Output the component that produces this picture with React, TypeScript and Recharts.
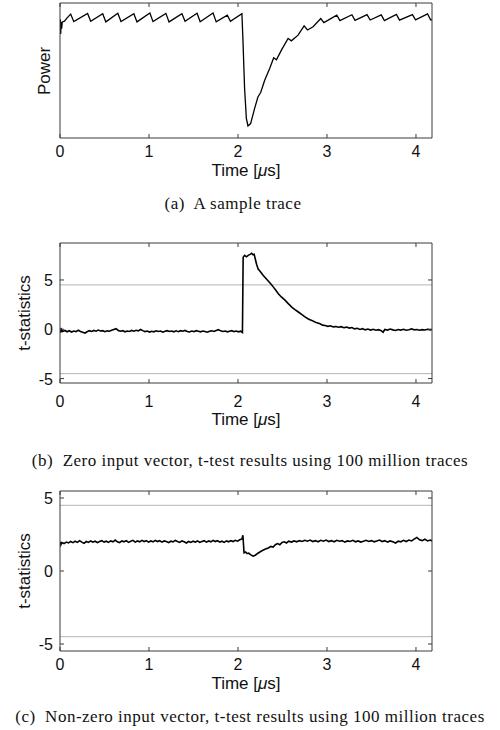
import { LineChart, Line, XAxis, YAxis, ReferenceLine } from "recharts";

// ---- data ----
const timeTicks = [0, 1, 2, 3, 4];
const tTicks = [-5, 0, 5];
const threshold = 4.5;

// (a) single power trace, arbitrary units 0..100
const sampleTrace: [number, number][] = [
  [0, 80], [0.004, 88], [0.008, 77], [0.012, 86], [0.018, 81], [0.026, 86],
  [0.05, 86.5], [0.08, 89], [0.12, 91.8], [0.155, 86.2],
  [0.31, 92.2], [0.345, 86.4], [0.48, 92.0], [0.515, 86.0],
  [0.65, 92.4], [0.685, 86.3], [0.83, 92.1], [0.865, 86.0],
  [1.01, 92.6], [1.045, 86.2], [1.19, 92.3], [1.225, 86.0],
  [1.37, 92.1], [1.405, 86.4], [1.54, 92.4], [1.575, 86.1],
  [1.72, 92.6], [1.755, 86.0], [1.88, 91.0], [1.915, 86.4],
  [2.044, 92.0], [2.055, 74], [2.074, 36.9], [2.094, 14.6], [2.112, 8.9],
  [2.142, 10.7], [2.187, 22], [2.224, 30.4], [2.255, 33.7], [2.3, 42.8],
  [2.356, 51.5], [2.401, 59.4], [2.432, 58.0], [2.488, 65.1], [2.563, 73.8],
  [2.6, 72.0], [2.675, 76.2], [2.743, 83.1], [2.781, 80.0], [2.844, 82.4],
  [2.93, 88.5], [2.965, 85.5], [3.11, 91], [3.145, 87], [3.28, 91.3],
  [3.315, 87.2], [3.45, 91.4], [3.485, 87.4], [3.61, 91.2], [3.645, 87.0],
  [3.78, 91.5], [3.815, 87.3], [3.96, 91.4], [3.995, 87.5], [4.13, 92.0],
  [4.165, 87.4], [4.18, 87.8],
];

// (b) zero input vector t-statistics
const zeroInput: [number, number][] = [
  [0, 0.05], [0.005, -0.35], [0.01, 0.1], [0.015, -0.3], [0.02, -0.05], [0.03, -0.22],
  [0.055, -0.12], [0.08, -0.25], [0.105, -0.15], [0.13, -0.28], [0.155, -0.18],
  [0.18, -0.24], [0.205, -0.1], [0.23, -0.22], [0.255, -0.3], [0.28, -0.38],
  [0.305, -0.26], [0.33, -0.14], [0.355, -0.22], [0.38, -0.12], [0.405, -0.2],
  [0.43, -0.08], [0.455, -0.18], [0.48, -0.14], [0.505, -0.24], [0.53, -0.16],
  [0.555, -0.2], [0.58, -0.1], [0.605, -0.02], [0.63, 0.06], [0.655, -0.12],
  [0.68, -0.2], [0.705, -0.14], [0.73, -0.26], [0.755, -0.18], [0.78, -0.22],
  [0.805, -0.12], [0.83, -0.2], [0.855, -0.1], [0.88, -0.16], [0.905, -0.02],
  [0.93, -0.14], [0.955, -0.24], [0.98, -0.18], [1.005, -0.28], [1.03, -0.2],
  [1.055, -0.26], [1.08, -0.16], [1.105, -0.22], [1.13, -0.18], [1.155, -0.3],
  [1.18, -0.2], [1.205, -0.14], [1.23, -0.22], [1.255, -0.18], [1.28, -0.26],
  [1.305, -0.16], [1.33, -0.24], [1.355, -0.14], [1.38, -0.2], [1.405, -0.12],
  [1.43, -0.22], [1.455, -0.28], [1.48, -0.18], [1.505, -0.24], [1.53, -0.14],
  [1.555, -0.2], [1.58, -0.26], [1.605, -0.18], [1.63, -0.22], [1.655, -0.3],
  [1.68, -0.2], [1.705, -0.16], [1.73, -0.22], [1.755, -0.12], [1.78, -0.04],
  [1.805, -0.16], [1.83, -0.22], [1.855, -0.18], [1.88, -0.26], [1.905, -0.2],
  [1.93, -0.14], [1.955, -0.24], [1.98, -0.18], [2.005, -0.26], [2.03, -0.2],
  [2.05, -0.32], [2.058, 7.3], [2.075, 7.5], [2.095, 7.35], [2.115, 7.5],
  [2.135, 7.6], [2.153, 7.7], [2.17, 7.55], [2.182, 7.6], [2.195, 7.1],
  [2.209, 6.6], [2.227, 6.1], [2.25, 5.85], [2.284, 5.45], [2.31, 5.2],
  [2.34, 4.9], [2.37, 4.6], [2.396, 4.3], [2.425, 3.95], [2.453, 3.6],
  [2.49, 3.25], [2.528, 2.95], [2.565, 2.6], [2.604, 2.25], [2.64, 2.0],
  [2.678, 1.75], [2.715, 1.5], [2.753, 1.25], [2.79, 1.05], [2.829, 0.9],
  [2.87, 0.72], [2.922, 0.55], [2.95, 0.42], [2.978, 0.38], [3.01, 0.3],
  [3.04, 0.36], [3.07, 0.24], [3.1, 0.28], [3.13, 0.2], [3.16, 0.26],
  [3.19, 0.16], [3.22, 0.22], [3.25, 0.12], [3.28, 0.18], [3.31, 0.04],
  [3.34, 0.1], [3.37, -0.02], [3.4, 0.06], [3.43, -0.06], [3.46, 0.02],
  [3.49, -0.08], [3.52, 0.0], [3.55, -0.1], [3.58, -0.04], [3.61, -0.14],
  [3.63, -0.3], [3.65, -0.02], [3.68, -0.08], [3.71, 0.02], [3.74, -0.06],
  [3.77, -0.12], [3.8, -0.02], [3.83, -0.08], [3.86, 0.0], [3.89, -0.1],
  [3.92, -0.04], [3.95, 0.04], [3.98, -0.06], [4.01, -0.02], [4.04, -0.1],
  [4.07, -0.04], [4.1, -0.08], [4.13, 0.0], [4.16, -0.06], [4.18, -0.03],
];

// (c) non-zero input vector t-statistics
const nonZeroInput: [number, number][] = [
  [0, 1.75], [0.005, 2.0], [0.01, 1.8], [0.02, 1.95], [0.045, 1.88], [0.07, 1.98],
  [0.095, 1.92], [0.12, 2.02], [0.145, 1.94], [0.17, 2.04], [0.195, 1.96],
  [0.22, 2.08], [0.245, 1.98], [0.27, 1.9], [0.295, 2.02], [0.32, 1.96],
  [0.345, 2.06], [0.37, 1.98], [0.395, 2.04], [0.42, 1.94], [0.445, 2.02],
  [0.47, 2.08], [0.495, 1.98], [0.52, 2.04], [0.545, 1.96], [0.57, 2.06],
  [0.595, 2.0], [0.62, 2.12], [0.645, 2.0], [0.67, 1.94], [0.695, 2.06],
  [0.72, 2.0], [0.745, 2.08], [0.77, 1.96], [0.795, 2.04], [0.82, 2.1],
  [0.845, 1.98], [0.87, 2.06], [0.895, 2.0], [0.92, 2.1], [0.945, 2.02],
  [0.97, 2.08], [0.995, 1.98], [1.02, 2.06], [1.045, 2.0], [1.07, 2.1],
  [1.095, 2.02], [1.12, 2.08], [1.145, 1.98], [1.17, 2.06], [1.195, 2.02],
  [1.22, 1.94], [1.245, 2.04], [1.27, 2.0], [1.295, 2.1], [1.32, 2.02],
  [1.345, 1.96], [1.37, 2.06], [1.395, 2.0], [1.42, 1.92], [1.445, 2.02],
  [1.47, 1.96], [1.495, 2.04], [1.52, 1.98], [1.545, 2.06], [1.57, 1.96],
  [1.595, 2.02], [1.62, 2.08], [1.645, 1.98], [1.67, 2.06], [1.695, 2.0],
  [1.72, 2.1], [1.745, 2.02], [1.77, 2.08], [1.795, 1.98], [1.82, 2.04],
  [1.845, 1.96], [1.87, 2.06], [1.895, 2.0], [1.92, 2.08], [1.945, 2.02],
  [1.97, 2.1], [1.995, 2.04], [2.02, 2.14], [2.045, 2.2], [2.055, 2.45],
  [2.068, 1.25], [2.085, 1.3], [2.1, 1.2], [2.12, 1.22], [2.145, 1.1],
  [2.17, 1.02], [2.195, 1.08], [2.22, 1.2], [2.25, 1.32], [2.28, 1.42],
  [2.31, 1.5], [2.34, 1.58], [2.37, 1.68], [2.395, 1.64], [2.42, 1.8],
  [2.445, 1.88], [2.47, 1.8], [2.495, 1.96], [2.52, 2.0], [2.545, 1.92],
  [2.57, 2.04], [2.6, 1.98], [2.63, 2.06], [2.66, 2.0], [2.69, 2.08],
  [2.72, 2.02], [2.75, 2.1], [2.78, 2.04], [2.81, 2.12], [2.84, 2.02],
  [2.87, 2.08], [2.9, 2.0], [2.93, 2.1], [2.96, 2.04], [2.99, 2.12],
  [3.02, 2.02], [3.05, 2.08], [3.08, 2.0], [3.11, 2.1], [3.14, 2.04],
  [3.17, 2.08], [3.2, 1.98], [3.23, 2.06], [3.26, 2.02], [3.29, 2.1],
  [3.32, 2.0], [3.35, 2.06], [3.38, 1.98], [3.41, 2.04], [3.44, 2.1],
  [3.47, 2.02], [3.5, 2.08], [3.53, 2.0], [3.56, 2.06], [3.59, 2.12],
  [3.62, 2.02], [3.65, 2.08], [3.68, 1.98], [3.71, 2.06], [3.74, 2.0],
  [3.77, 1.92], [3.8, 2.04], [3.83, 2.0], [3.86, 2.1], [3.89, 2.02],
  [3.92, 2.12], [3.95, 2.06], [3.98, 2.18], [4.01, 2.3], [4.04, 2.14],
  [4.07, 2.08], [4.1, 2.18], [4.13, 2.06], [4.16, 2.12], [4.18, 2.06],
];

const toRows = (pts: [number, number][]) => pts.map(([t, v]) => ({ t, v }));

const SANS = "'Liberation Sans', Arial, sans-serif";
const SERIF = "'Liberation Serif', 'Times New Roman', serif";
const FRAME = "#3a3a3a";
const TICK_LEN = 4;

// inward tick marks, labels outside
function InTick(props: any) {
  const { x, y, payload, side, showLabel, labelOffset } = props;
  let line;
  let label = null;
  if (side === "bottom") {
    line = <line x1={x} y1={y} x2={x} y2={y - TICK_LEN} stroke={FRAME} />;
    if (showLabel)
      label = (
        <text x={x} y={y + labelOffset} textAnchor="middle" fontSize={16} fontFamily={SANS} fill="#111">
          {payload.value}
        </text>
      );
  } else if (side === "top") {
    line = <line x1={x} y1={y} x2={x} y2={y + TICK_LEN} stroke={FRAME} />;
  } else if (side === "left") {
    line = <line x1={x} y1={y} x2={x + TICK_LEN} y2={y} stroke={FRAME} />;
    if (showLabel)
      label = (
        <text x={x - 7} y={y + 6} textAnchor="end" fontSize={16} fontFamily={SANS} fill="#111">
          {payload.value}
        </text>
      );
  } else {
    line = <line x1={x} y1={y} x2={x - TICK_LEN} y2={y} stroke={FRAME} />;
  }
  return (
    <g>
      {line}
      {label}
    </g>
  );
}

function Panel({
  rows,
  top,
  height,
  plotTop,
  plotBottom,
  yDomain,
  yTicks,
  labelOffset,
  refs,
  strokeWidth,
}: {
  rows: { t: number; v: number }[];
  top: number;
  height: number;
  plotTop: number;
  plotBottom: number;
  yDomain: [number, number];
  yTicks: number[];
  labelOffset: number;
  refs: number[];
  strokeWidth: number;
}) {
  const xDomain: [number, number] = [0, 4.18];
  return (
    <div style={{ position: "absolute", left: 0, top }}>
      <LineChart
        width={500}
        height={height}
        data={rows}
        margin={{ top: plotTop - 1, right: 67, bottom: 0, left: 0 }}
      >
        <XAxis
          xAxisId="b"
          dataKey="t"
          type="number"
          domain={xDomain}
          allowDataOverflow
          ticks={timeTicks}
          interval={0}
          height={height - plotBottom}
          tickSize={0}
          tickMargin={0}
          axisLine={{ stroke: FRAME }}
          tickLine={false}
          tick={(p: any) => <InTick {...p} side="bottom" showLabel labelOffset={labelOffset} />}
        />
        <XAxis
          xAxisId="t"
          orientation="top"
          dataKey="t"
          type="number"
          domain={xDomain}
          allowDataOverflow
          ticks={timeTicks}
          interval={0}
          height={1}
          tickSize={0}
          tickMargin={0}
          axisLine={{ stroke: FRAME }}
          tickLine={false}
          tick={(p: any) => <InTick {...p} side="top" />}
        />
        <YAxis
          yAxisId="l"
          type="number"
          domain={yDomain}
          allowDataOverflow
          ticks={yTicks}
          interval={0}
          width={60}
          tickSize={0}
          tickMargin={0}
          axisLine={{ stroke: FRAME }}
          tickLine={false}
          tick={(p: any) => <InTick {...p} side="left" showLabel />}
        />
        <YAxis
          yAxisId="r"
          orientation="right"
          type="number"
          domain={yDomain}
          allowDataOverflow
          ticks={yTicks}
          interval={0}
          width={1}
          tickSize={0}
          tickMargin={0}
          axisLine={{ stroke: FRAME }}
          tickLine={false}
          tick={(p: any) => <InTick {...p} side="right" />}
        />
        {refs.map((r) => (
          <ReferenceLine key={r} xAxisId="b" yAxisId="l" y={r} stroke="#b4b4b4" strokeWidth={1} />
        ))}
        <Line
          xAxisId="b"
          yAxisId="l"
          type="linear"
          dataKey="v"
          stroke="#000"
          strokeWidth={strokeWidth}
          dot={false}
          activeDot={false}
          isAnimationActive={false}
        />
      </LineChart>
    </div>
  );
}

const abs = (left: number, top: number, extra: any = {}) => ({
  position: "absolute" as const,
  left,
  top,
  transform: "translate(-50%, -50%)",
  whiteSpace: "pre" as const,
  ...extra,
});

function TimeTitle({ y }: { y: number }) {
  return (
    <div style={abs(246, y, { fontFamily: SANS, fontSize: 17, color: "#111" })}>
      Time [<i>μ</i>s]
    </div>
  );
}

function YTitle({ x, y, text }: { x: number; y: number; text: string }) {
  return (
    <div
      style={abs(x, y, {
        fontFamily: SANS,
        fontSize: 17,
        color: "#111",
        transform: "translate(-50%, -50%) rotate(-90deg)",
      })}
    >
      {text}
    </div>
  );
}

function Caption({ x = 250, y, text }: { x?: number; y: number; text: string }) {
  return (
    <div style={abs(x, y, { fontFamily: SERIF, fontSize: 17, letterSpacing: 0.5, color: "#111" })}>
      {text}
    </div>
  );
}

export default function App() {
  return (
    <div style={{ position: "absolute", left: 0, top: 0, width: 500, height: 730, background: "#fff" }}>
      <Panel
        rows={toRows(sampleTrace)}
        top={0}
        height={165}
        plotTop={3}
        plotBottom={138}
        yDomain={[0, 100]}
        yTicks={[]}
        labelOffset={19}
        refs={[]}
        strokeWidth={1.3}
      />
      <YTitle x={45} y={71} text="Power" />
      <TimeTitle y={171} />
      <Caption x={233} y={204} text="(a)  A sample trace" />

      <Panel
        rows={toRows(zeroInput)}
        top={230}
        height={185}
        plotTop={13}
        plotBottom={153}
        yDomain={[-5.45, 8.75]}
        yTicks={tTicks}
        labelOffset={24}
        refs={[threshold, -threshold]}
        strokeWidth={1.6}
      />
      <YTitle x={25} y={313} text="t-statistics" />
      <TimeTitle y={420} />
      <Caption y={461} text="(b)  Zero input vector, t-test results using 100 million traces" />

      <Panel
        rows={toRows(nonZeroInput)}
        top={480}
        height={200}
        plotTop={11}
        plotBottom={171}
        yDomain={[-5.48, 5.48]}
        yTicks={tTicks}
        labelOffset={19}
        refs={[threshold, -threshold]}
        strokeWidth={1.6}
      />
      <YTitle x={25} y={571} text="t-statistics" />
      <TimeTitle y={684} />
      <Caption y={717} text="(c)  Non-zero input vector, t-test results using 100 million traces" />
    </div>
  );
}
